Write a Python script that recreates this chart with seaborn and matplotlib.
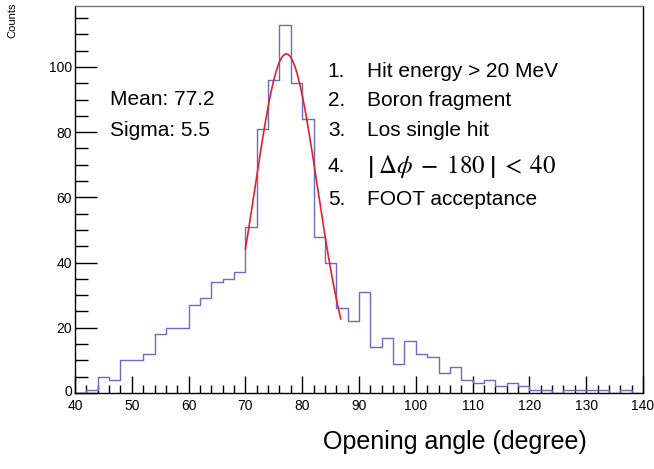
import numpy as np
import pandas as pd
import matplotlib
matplotlib.use("Agg")
import matplotlib.pyplot as plt
import matplotlib.transforms as mtransforms
import seaborn as sns
from matplotlib.ticker import MultipleLocator

# ---- data ----
bin_edges = list(range(40, 142, 2))
bin_counts = [0, 1, 5, 4, 10, 10, 12, 18, 20, 20,
              27, 29, 34, 35, 37, 51, 81, 96, 113, 95,
              84, 48, 40, 26, 22, 31, 14, 17, 9, 16,
              12, 11, 6, 8, 4, 3, 4, 2, 3, 2,
              1, 1, 0, 1, 1, 1, 1, 0, 1, 0]
fit_mean = 77.2
fit_sigma = 5.5
fit_amp = 104.0
fit_lo, fit_hi = 70.0, 86.8
cuts = ["Hit energy > 20 MeV", "Boron fragment", "Los single hit",
        r"$\left|\;\Delta\phi\;-\;180\;\right|\;<\;40$", "FOOT acceptance"]

sns.set_theme(style="ticks")
plt.rcParams["font.family"] = ["Liberation Sans", "DejaVu Sans"]
plt.rcParams["mathtext.fontset"] = "stix"
plt.rcParams["text.color"] = "black"
plt.rcParams["xtick.color"] = "black"
plt.rcParams["ytick.color"] = "black"
plt.rcParams["xtick.labelcolor"] = "black"
plt.rcParams["ytick.labelcolor"] = "black"

fig = plt.figure(figsize=(6.54, 4.69), dpi=100)
ax = fig.add_axes([75/654, 1-393/469, (643-75)/654, (393-6)/469])

edges = np.array(bin_edges, dtype=float)
centers = (edges[:-1] + edges[1:]) / 2
df = pd.DataFrame({"angle": centers, "n": np.array(bin_counts, dtype=float)})
sns.histplot(data=df, x="angle", weights="n", bins=bin_edges, element="step",
             fill=False, color="#6a6ac8", linewidth=1.0, ax=ax)

xf = np.linspace(fit_lo, fit_hi, 200)
fit_df = pd.DataFrame({"x": xf, "y": fit_amp*np.exp(-0.5*((xf-fit_mean)/fit_sigma)**2)})
sns.lineplot(data=fit_df, x="x", y="y", color="#e4202a", linewidth=1.2, ax=ax)

ax.set_xlim(40, 140)
ax.set_ylim(0, 118.7)
ax.xaxis.set_major_locator(MultipleLocator(10))
ax.xaxis.set_minor_locator(MultipleLocator(2))
ax.yaxis.set_major_locator(MultipleLocator(20))
ax.yaxis.set_minor_locator(MultipleLocator(5))
ax.tick_params(axis="both", which="major", direction="in", length=12, width=1,
               labelsize=10, colors="black")
ax.tick_params(axis="both", which="minor", direction="in", length=6, width=1)
ax.tick_params(axis="y", which="major", length=16)
ax.tick_params(axis="y", which="minor", length=9)
ax.tick_params(axis="x", pad=4)
ax.tick_params(axis="y", pad=2)
for s in ax.spines.values():
    s.set_color("black")
    s.set_linewidth(1.0)
ax.spines["top"].set_color("#777777")
ax.set_xlabel("")
ax.set_ylabel("")

fig.canvas.draw()
# raise the "0" label of the y axis a little, as in the reference
for lab in ax.get_yticklabels():
    if lab.get_text() in ("0", "−0"):
        lab.set_transform(lab.get_transform() +
                          mtransforms.ScaledTranslation(0, 1.5/100, fig.dpi_scale_trans))
        lab.set_verticalalignment("center")

fig.text(0.012, 0.995, "Counts", rotation=90, ha="left", va="top", fontsize=8)
fig.text(455/654, 1-442/469, "Opening angle (degree)", ha="center", va="center",
         fontsize=18)

ax.text(46.2, 89.9, "Mean: 77.2", fontsize=15, va="center", ha="left")
ax.text(46.2, 80.4, "Sigma: 5.5", fontsize=15, va="center", ha="left")

ys = [98.5, 89.6, 80.4, 69.6, 59.2]
for i, (txt, y) in enumerate(zip(cuts, ys)):
    ax.text(84.5, y, f"{i+1}.", fontsize=15, va="center", ha="left")
    fs = 18 if txt.startswith("$") else 15
    ax.text(91.4, y, txt, fontsize=fs, va="center", ha="left")

fig.savefig("out.png", dpi=100)
